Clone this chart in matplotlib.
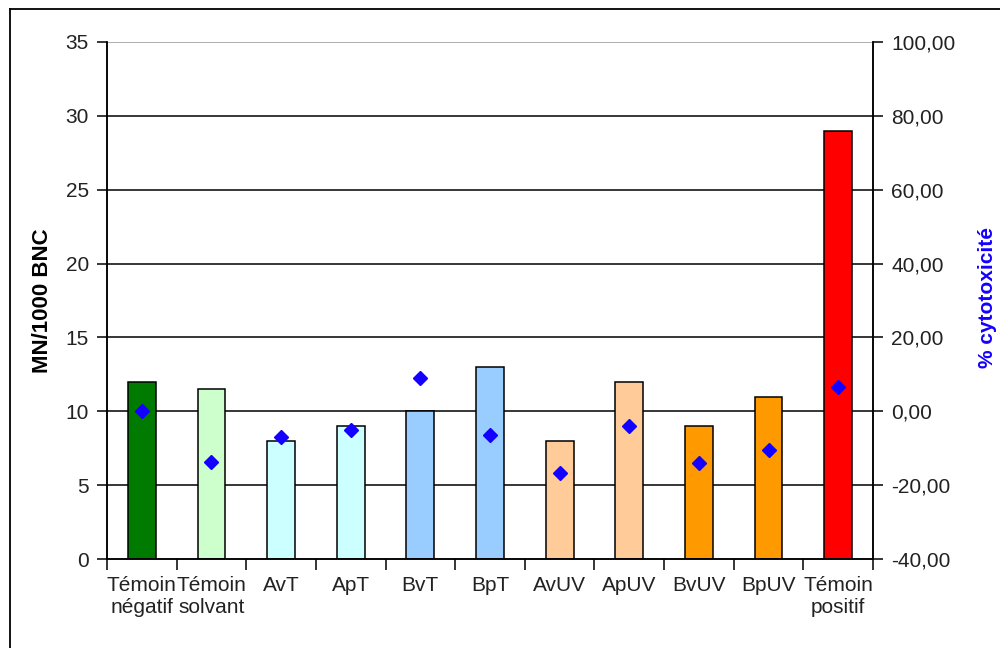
import matplotlib
matplotlib.use("Agg")
import matplotlib.pyplot as plt
from matplotlib.lines import Line2D
from matplotlib.ticker import FixedLocator, FuncFormatter

plt.rcParams["font.family"] = ["Liberation Sans", "DejaVu Sans"]

categories = ["Témoin\nnégatif", "Témoin\nsolvant", "AvT", "ApT", "BvT", "BpT",
              "AvUV", "ApUV", "BvUV", "BpUV", "Témoin\npositif"]
mn_per_1000 = [12, 11.5, 8, 9, 10, 13, 8, 12, 9, 11, 29]
cytotox = [0.0, -13.7, -7.0, -5.0, 9.1, -6.5, -16.8, -4.1, -14.1, -10.6, 6.7]
bar_colors = ["#007A00", "#CCFFCC", "#CCFFFF", "#CCFFFF", "#99CCFF", "#99CCFF",
              "#FFCC99", "#FFCC99", "#FF9900", "#FF9900", "#FF0000"]

fig = plt.figure(figsize=(10, 6.48), dpi=100)
ax = fig.add_axes([0.107, 0.1373, 0.766, 0.798])
ax2 = ax.twinx()

x = list(range(len(categories)))
for yv in [5, 10, 15, 20, 25, 30]:
    ax.axhline(yv, color="black", lw=1.1, zorder=1)
ax.axhline(35, color="#999999", lw=1.1, zorder=1)
ax.bar(x, mn_per_1000, width=0.4, color=bar_colors, edgecolor="black", lw=1.1, zorder=2)
ax2.plot(x, cytotox, "D", color="#1400FF", ms=7, zorder=3)

ax.set_xlim(-0.5, len(categories) - 0.5)
ax.set_ylim(0, 35)
ax2.set_ylim(-40, 100)
ax.set_yticks(range(0, 36, 5))
ax2.set_yticks(range(-40, 101, 20))
ax2.yaxis.set_major_formatter(FuncFormatter(lambda v, p: f"{v:.2f}".replace(".", ",")))

ax.set_xticks(x)
ax.set_xticklabels(categories, fontsize=15, color="#222222", linespacing=1.25)
ax.xaxis.set_minor_locator(FixedLocator([i - 0.5 for i in range(len(categories) + 1)]))
ax.tick_params(axis="x", which="major", length=0, pad=12)
ax.tick_params(axis="x", which="minor", length=8, width=1.1, direction="out")
ax.tick_params(axis="y", length=7, width=1.1, labelsize=15, labelcolor="#222222", pad=6)
ax2.tick_params(axis="y", length=7, width=1.1, labelsize=15, labelcolor="#222222", pad=6)

for a in (ax, ax2):
    a.spines["top"].set_visible(False)
    for s in ("left", "right", "bottom"):
        a.spines[s].set_linewidth(1.1)

ax.set_ylabel("MN/1000 BNC", fontsize=16, fontweight="bold")
ax.yaxis.set_label_coords(-0.07, 0.5)
ax2.set_ylabel("% cytotoxicité", fontsize=15, fontweight="bold", color="#1400FF")
ax2.yaxis.set_label_coords(1.137, 0.505)

# outer chart frame
fig.add_artist(Line2D([0.010, 1.0], [0.986, 0.986], color="black", lw=1.3))
fig.add_artist(Line2D([0.010, 0.010], [0.0, 0.986], color="black", lw=1.3))

fig.savefig("out.png", dpi=100)
